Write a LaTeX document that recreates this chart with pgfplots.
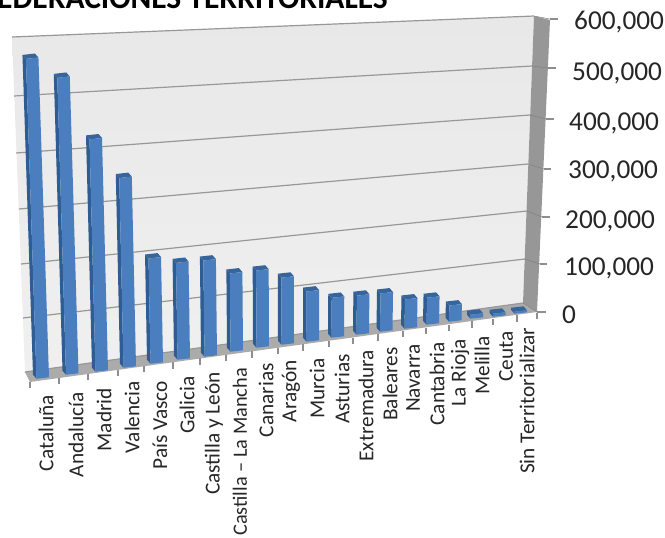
\documentclass[border=0pt]{standalone}
\usepackage{pgfplots}
\usepackage{pgfplotstable}
\usepackage{fontspec}
\setmainfont{Carlito}
\pgfplotsset{compat=1.18}

\definecolor{barfront}{HTML}{4A7EBE}
\definecolor{barside}{HTML}{2F5C92}
\definecolor{bartop}{HTML}{36659C}
\definecolor{wallside}{HTML}{979797}
\definecolor{floorgray}{HTML}{ABABAB}
\definecolor{gridgray}{HTML}{989898}
\definecolor{tickgray}{HTML}{8E8E8E}

% afiliados (miles), and where each column stands on the floor of the chart
\pgfplotstableread{
idx value xl  yb
0   565   36.5 378
1   528   66  374
2   416   95.5 371
3   342   123.5 367
4   191   150.5 363
5   177   177.5 359
6   177   204.5 356
7   145   230.5 351
8   144   256.5 347
9   126   281.5 344
10  95    306.5 341
11  76    331.5 337
12  75    356.5 334
13  74    380 331
14  57    404.5 328
15  53    426.5 324
16  32    449 321
17  8     470.5 318
18  6     493 316
19  4     514.5 313
}\federaciones

\newcommand{\tagx}[3]{\node[rotate=90,anchor=east,inner sep=0pt,font=\fontsize{21.3}{21.3}\selectfont,text=black!85] at (axis cs:#1,#2) {#3};}
\newcommand{\tagy}[3]{\node[anchor=base west,inner sep=0pt,font=\fontsize{27.3}{27.3}\selectfont,text=black!85] at (axis cs:#1,#2) {#3};}

\begin{document}
\begin{tikzpicture}
\useasboundingbox (0,0) rectangle (665pt,538pt);
\clip (0,0) rectangle (665pt,538pt);
\begin{axis}[
  at={(0,0)}, anchor=south west,
  scale only axis, width=665pt, height=538pt,
  xmin=0, xmax=665, ymin=0, ymax=538, y dir=reverse,
  hide axis, clip=true,
]
% back wall
\addplot[draw=none, top color=black!9, bottom color=black!6] coordinates {(12,37) (534,16) (523,303) (25,372)} --cycle;
% side wall
\addplot[draw=none, fill=wallside] coordinates {(534,16) (550,20) (537,312) (523,303)} --cycle;
% floor
\addplot[draw=none, fill=floorgray] coordinates {(25,372) (523,303) (537,312) (30,382)} --cycle;

% gridlines on the back wall, carried over the side wall to the ticks
\foreach \xa/\ya/\xb/\yb/\xc/\yc/\xd in {
  12/37/534/16/550/19/558,
  14/96/532/66/548/68/556,
  16/153/530/115/546/119/554,
  19/209/528/164/544/169/551,
  21/264/527/211/542/217/550,
  23/318/525/259/540/264/547,
  25/372/523/303/537/312/546}{
  \edef\temp{
    \noexpand\addplot[gridgray, line width=1.2pt] coordinates {(\xa,\ya) (\xb,\yb)};
    \noexpand\addplot[black!50, line width=0.5pt] coordinates {(\xb,\yb) (\xc,\yc)};
    \noexpand\addplot[tickgray, line width=1.5pt] coordinates {(\xc,\yc) (\xd,\yc)};
  }\temp
}

% category ticks under the floor
\foreach \x in {30,59,88,118,144,173,200,226,252,278,303,329,353,378,403,426,449,472,493,517,537}{
  \pgfmathsetmacro\ya{381.5-0.136*(\x-30)}
  \pgfmathsetmacro\yb{\ya+6.5}
  \edef\temp{\noexpand\addplot[tickgray, line width=1.4pt] coordinates {(\x,\ya) (\x,\yb)};}\temp
}

% columns: front, side and top faces
\foreach \i in {0,...,19}{
  \pgfplotstablegetelem{\i}{value}\of\federaciones \let\val\pgfplotsretval
  \pgfplotstablegetelem{\i}{xl}\of\federaciones \let\xl\pgfplotsretval
  \pgfplotstablegetelem{\i}{yb}\of\federaciones \let\yb\pgfplotsretval
  % depth foreshortening of the value scale and lean of the verticals
  \pgfmathsetmacro\h{\val*(0.566-0.0038*\i)}
  \pgfmathsetmacro\lean{(-0.033+0.0036*\i)*\h}
  \pgfmathsetmacro\xr{\xl+12.5}
  \pgfmathsetmacro\xbl{\xl-3.5}
  \pgfmathsetmacro\xbr{\xr-3.5}
  \pgfmathsetmacro\ybl{\yb+0.7}
  \pgfmathsetmacro\ybr{\yb-0.7}
  \pgfmathsetmacro\ytl{\ybl-\h}
  \pgfmathsetmacro\ytr{\ybr-\h}
  \pgfmathsetmacro\xtl{\xl+\lean}
  \pgfmathsetmacro\xtr{\xr+\lean}
  \pgfmathsetmacro\xtbl{\xbl+\lean}
  \pgfmathsetmacro\xtbr{\xbr+\lean}
  \pgfmathsetmacro\ysl{\ybl-4}
  \pgfmathsetmacro\ytbl{\ytl-4}
  \pgfmathsetmacro\ytbr{\ytr-4}
  \edef\temp{
    \noexpand\addplot[draw=none, fill=barside] coordinates {(\xbl,\ysl) (\xtbl,\ytbl) (\xtl,\ytl) (\xl,\ybl)} --cycle;
    \noexpand\addplot[draw=none, fill=bartop] coordinates {(\xtbl,\ytbl) (\xtbr,\ytbr) (\xtr,\ytr) (\xtl,\ytl)} --cycle;
    \noexpand\addplot[draw=none, fill=barfront] coordinates {(\xl,\ybl) (\xtl,\ytl) (\xtr,\ytr) (\xr,\ybr)} --cycle;
  }\temp
}

% title, running off the top and left edges
\node[anchor=base east, inner sep=0pt, font=\fontsize{31.5}{31.5}\selectfont\bfseries] at (axis cs:388,9) {FEDERACIONES TERRITORIALES};

% value labels
\tagy{574}{30}{600,000}
\tagy{572}{80}{500,000}
\tagy{569}{130}{400,000}
\tagy{568}{178}{300,000}
\tagy{565}{228}{200,000}
\tagy{564}{275}{100,000}
\tagy{562}{323}{0}

% category labels
\tagx{46}{395}{Cataluña}
\tagx{76}{392}{Andalucía}
\tagx{104}{388}{Madrid}
\tagx{132}{381}{Valencia}
\tagx{160}{381}{País Vasco}
\tagx{187}{376}{Galicia}
\tagx{214}{372}{Castilla y León}
\tagx{240}{368}{\fontsize{20.3}{20.3}\selectfont Castilla -- La Mancha}
\tagx{266}{363}{Canarias}
\tagx{291}{360}{Aragón}
\tagx{317}{358}{Murcia}
\tagx{342}{354}{Asturias}
\tagx{366}{350}{Extremadura}
\tagx{390}{347}{Baleares}
\tagx{413}{344}{Navarra}
\tagx{437}{342}{Cantabria}
\tagx{460}{339}{La Rioja}
\tagx{482}{336}{Melilla}
\tagx{506}{331}{Ceuta}
\tagx{527}{328}{Sin Territorializar}
\end{axis}
\end{tikzpicture}
\end{document}
